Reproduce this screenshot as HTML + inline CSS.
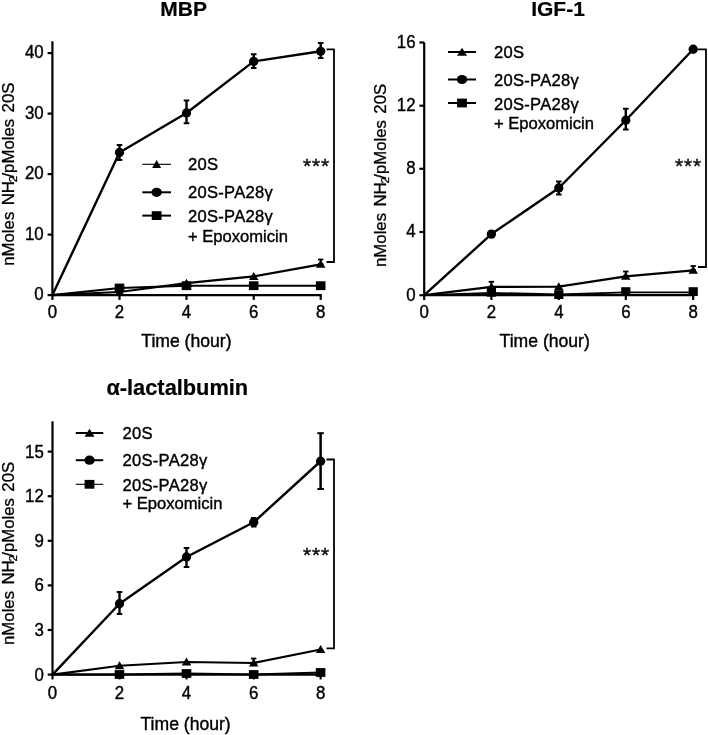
<!DOCTYPE html>
<html><head><meta charset="utf-8"><title>Figure</title>
<style>
html,body{margin:0;padding:0;background:#fff;}
svg{display:block;font-family:'Liberation Sans', Arial, sans-serif;}
</style></head><body>
<svg width="708" height="735" viewBox="0 0 708 735">
<rect width="708" height="735" fill="#fff"/>
<line x1="52.4" y1="41.3" x2="52.4" y2="296.20000000000005" stroke="#000" stroke-width="2.2" stroke-linecap="butt"/>
<line x1="51.3" y1="295.1" x2="321.8" y2="295.1" stroke="#000" stroke-width="2.2" stroke-linecap="butt"/>
<line x1="47.6" y1="53.1" x2="52.4" y2="53.1" stroke="#000" stroke-width="2.2" stroke-linecap="butt"/>
<text transform="translate(43.7,58.4) scale(0.962,1)" font-size="17.5" text-anchor="end" font-weight="normal" fill="#000" stroke="#000" stroke-width="0.4" >40</text>
<line x1="47.6" y1="113.6" x2="52.4" y2="113.6" stroke="#000" stroke-width="2.2" stroke-linecap="butt"/>
<text transform="translate(43.7,118.89999999999999) scale(0.962,1)" font-size="17.5" text-anchor="end" font-weight="normal" fill="#000" stroke="#000" stroke-width="0.4" >30</text>
<line x1="47.6" y1="174.1" x2="52.4" y2="174.1" stroke="#000" stroke-width="2.2" stroke-linecap="butt"/>
<text transform="translate(43.7,179.4) scale(0.962,1)" font-size="17.5" text-anchor="end" font-weight="normal" fill="#000" stroke="#000" stroke-width="0.4" >20</text>
<line x1="47.6" y1="234.6" x2="52.4" y2="234.6" stroke="#000" stroke-width="2.2" stroke-linecap="butt"/>
<text transform="translate(43.7,239.9) scale(0.962,1)" font-size="17.5" text-anchor="end" font-weight="normal" fill="#000" stroke="#000" stroke-width="0.4" >10</text>
<line x1="47.6" y1="295.1" x2="52.4" y2="295.1" stroke="#000" stroke-width="2.2" stroke-linecap="butt"/>
<text transform="translate(43.7,300.40000000000003) scale(0.962,1)" font-size="17.5" text-anchor="end" font-weight="normal" fill="#000" stroke="#000" stroke-width="0.4" >0</text>
<line x1="52.4" y1="295.1" x2="52.4" y2="299.90000000000003" stroke="#000" stroke-width="2.2" stroke-linecap="butt"/>
<text transform="translate(52.4,318.3) scale(0.962,1)" font-size="17.5" text-anchor="middle" font-weight="normal" fill="#000" stroke="#000" stroke-width="0.4" >0</text>
<line x1="119.5" y1="295.1" x2="119.5" y2="299.90000000000003" stroke="#000" stroke-width="2.2" stroke-linecap="butt"/>
<text transform="translate(119.5,318.3) scale(0.962,1)" font-size="17.5" text-anchor="middle" font-weight="normal" fill="#000" stroke="#000" stroke-width="0.4" >2</text>
<line x1="186.5" y1="295.1" x2="186.5" y2="299.90000000000003" stroke="#000" stroke-width="2.2" stroke-linecap="butt"/>
<text transform="translate(186.5,318.3) scale(0.962,1)" font-size="17.5" text-anchor="middle" font-weight="normal" fill="#000" stroke="#000" stroke-width="0.4" >4</text>
<line x1="253.7" y1="295.1" x2="253.7" y2="299.90000000000003" stroke="#000" stroke-width="2.2" stroke-linecap="butt"/>
<text transform="translate(253.7,318.3) scale(0.962,1)" font-size="17.5" text-anchor="middle" font-weight="normal" fill="#000" stroke="#000" stroke-width="0.4" >6</text>
<line x1="320.7" y1="295.1" x2="320.7" y2="299.90000000000003" stroke="#000" stroke-width="2.2" stroke-linecap="butt"/>
<text transform="translate(320.7,318.3) scale(0.962,1)" font-size="17.5" text-anchor="middle" font-weight="normal" fill="#000" stroke="#000" stroke-width="0.4" >8</text>
<text transform="translate(183.7,15.5) scale(1,1)" font-size="21" text-anchor="middle" font-weight="bold" fill="#000" stroke="#000" stroke-width="0.2" >MBP</text>
<text transform="translate(141.3,346.6) scale(0.962,1)" font-size="18.3" text-anchor="start" font-weight="normal" fill="#000" stroke="#000" stroke-width="0.4" >Time (hour)</text>
<text transform="translate(13.9,174.2) rotate(-90) scale(1,1)" font-size="16.8" letter-spacing="0" word-spacing="1.7" text-anchor="middle" fill="#000" stroke="#000" stroke-width="0.3">nMoles NH<tspan font-size="11.4" dy="3.4" dx="-1.1">2</tspan><tspan dy="-3.4" dx="-1.7">/pMoles 20S</tspan></text>
<polyline points="52.4,295.1 119.5,292 186.5,283.2 253.7,276.4 320.7,264.3" fill="none" stroke="#000" stroke-width="2.2" stroke-linejoin="round"/>
<polyline points="52.4,295.1 119.5,288 186.5,285.7 253.7,285.7 320.7,285.7" fill="none" stroke="#000" stroke-width="2.1" stroke-linejoin="round"/>
<polyline points="52.4,295.1 119.5,152.5 186.5,113 253.7,61.4 320.7,51.3" fill="none" stroke="#000" stroke-width="2.4" stroke-linejoin="round"/>
<line x1="119.5" y1="145" x2="119.5" y2="160" stroke="#000" stroke-width="2.4" stroke-linecap="butt"/>
<line x1="116.7" y1="145" x2="122.3" y2="145" stroke="#000" stroke-width="2.0" stroke-linecap="butt"/>
<line x1="116.7" y1="160" x2="122.3" y2="160" stroke="#000" stroke-width="2.0" stroke-linecap="butt"/>
<line x1="186.5" y1="100.5" x2="186.5" y2="123.25" stroke="#000" stroke-width="2.4" stroke-linecap="butt"/>
<line x1="183.7" y1="100.5" x2="189.3" y2="100.5" stroke="#000" stroke-width="2.0" stroke-linecap="butt"/>
<line x1="183.7" y1="123.25" x2="189.3" y2="123.25" stroke="#000" stroke-width="2.0" stroke-linecap="butt"/>
<line x1="253.7" y1="54.25" x2="253.7" y2="68" stroke="#000" stroke-width="2.4" stroke-linecap="butt"/>
<line x1="250.89999999999998" y1="54.25" x2="256.5" y2="54.25" stroke="#000" stroke-width="2.0" stroke-linecap="butt"/>
<line x1="250.89999999999998" y1="68" x2="256.5" y2="68" stroke="#000" stroke-width="2.0" stroke-linecap="butt"/>
<line x1="320.7" y1="43" x2="320.7" y2="58" stroke="#000" stroke-width="2.4" stroke-linecap="butt"/>
<line x1="317.9" y1="43" x2="323.5" y2="43" stroke="#000" stroke-width="2.0" stroke-linecap="butt"/>
<line x1="317.9" y1="58" x2="323.5" y2="58" stroke="#000" stroke-width="2.0" stroke-linecap="butt"/>
<line x1="320.7" y1="259.5" x2="320.7" y2="264" stroke="#000" stroke-width="1.8" stroke-linecap="butt"/>
<line x1="318.0" y1="259.5" x2="323.4" y2="259.5" stroke="#000" stroke-width="1.8" stroke-linecap="butt"/>
<line x1="318.0" y1="264" x2="323.4" y2="264" stroke="#000" stroke-width="1.8" stroke-linecap="butt"/>
<circle cx="119.5" cy="152.5" r="4.65" fill="#000"/>
<circle cx="186.5" cy="113" r="4.65" fill="#000"/>
<circle cx="253.7" cy="61.4" r="4.65" fill="#000"/>
<circle cx="320.7" cy="51.3" r="4.65" fill="#000"/>
<polygon points="119.5,287.5 124.25,295.5 114.75,295.5" fill="#000"/>
<polygon points="186.5,278.7 191.25,286.7 181.75,286.7" fill="#000"/>
<polygon points="253.7,271.9 258.45,279.9 248.95,279.9" fill="#000"/>
<polygon points="320.7,259.8 325.45,267.8 315.95,267.8" fill="#000"/>
<rect x="114.7" y="283.6" width="9.6" height="8.8" fill="#000"/>
<rect x="181.7" y="281.3" width="9.6" height="8.8" fill="#000"/>
<rect x="248.89999999999998" y="281.3" width="9.6" height="8.8" fill="#000"/>
<rect x="315.9" y="281.3" width="9.6" height="8.8" fill="#000"/>
<line x1="142.3" y1="164.3" x2="171" y2="164.3" stroke="#000" stroke-width="1.1" stroke-linecap="butt"/>
<line x1="142.3" y1="192.3" x2="171" y2="192.3" stroke="#000" stroke-width="2" stroke-linecap="butt"/>
<line x1="142.3" y1="215.6" x2="171" y2="215.6" stroke="#000" stroke-width="2" stroke-linecap="butt"/>
<polygon points="156.65,160.0 161.15,168.0 152.15,168.0" fill="#000"/>
<ellipse cx="156.65" cy="192.3" rx="5.2" ry="4.6" fill="#000"/>
<rect x="151.75" y="211.2" width="9.8" height="8.8" fill="#000"/>
<text transform="translate(188.0,170.1) scale(0.962,1)" font-size="17.25" text-anchor="start" font-weight="normal" fill="#000" stroke="#000" stroke-width="0.4" letter-spacing="0.27">20S</text>
<text transform="translate(188.0,197.8) scale(0.962,1)" font-size="17.25" text-anchor="start" font-weight="normal" fill="#000" stroke="#000" stroke-width="0.4" letter-spacing="0.27">20S-PA28γ</text>
<text transform="translate(188.0,221.8) scale(0.962,1)" font-size="17.25" text-anchor="start" font-weight="normal" fill="#000" stroke="#000" stroke-width="0.4" letter-spacing="0.27">20S-PA28γ</text>
<text transform="translate(188.0,242.0) scale(0.962,1)" font-size="17.25" text-anchor="start" font-weight="normal" fill="#000" stroke="#000" stroke-width="0.4" >+ Epoxomicin</text>
<polyline points="326.5,49.3 334,49.3 334,262 326.5,262" fill="none" stroke="#000" stroke-width="1.8"/>
<text x="302.9" y="172.7" font-size="20.8" letter-spacing="0.95" text-anchor="start" fill="#111" stroke="#111" stroke-width="0.45">***</text>
<line x1="424.2" y1="42.4" x2="424.2" y2="296.3" stroke="#000" stroke-width="2.2" stroke-linecap="butt"/>
<line x1="423.09999999999997" y1="295.2" x2="694.3000000000001" y2="295.2" stroke="#000" stroke-width="2.2" stroke-linecap="butt"/>
<line x1="419.4" y1="42.5" x2="424.2" y2="42.5" stroke="#000" stroke-width="2.2" stroke-linecap="butt"/>
<text transform="translate(415.5,47.8) scale(0.962,1)" font-size="17.5" text-anchor="end" font-weight="normal" fill="#000" stroke="#000" stroke-width="0.4" >16</text>
<line x1="419.4" y1="105.7" x2="424.2" y2="105.7" stroke="#000" stroke-width="2.2" stroke-linecap="butt"/>
<text transform="translate(415.5,111.0) scale(0.962,1)" font-size="17.5" text-anchor="end" font-weight="normal" fill="#000" stroke="#000" stroke-width="0.4" >12</text>
<line x1="419.4" y1="168.8" x2="424.2" y2="168.8" stroke="#000" stroke-width="2.2" stroke-linecap="butt"/>
<text transform="translate(415.5,174.10000000000002) scale(0.962,1)" font-size="17.5" text-anchor="end" font-weight="normal" fill="#000" stroke="#000" stroke-width="0.4" >8</text>
<line x1="419.4" y1="232.0" x2="424.2" y2="232.0" stroke="#000" stroke-width="2.2" stroke-linecap="butt"/>
<text transform="translate(415.5,237.3) scale(0.962,1)" font-size="17.5" text-anchor="end" font-weight="normal" fill="#000" stroke="#000" stroke-width="0.4" >4</text>
<line x1="419.4" y1="295.2" x2="424.2" y2="295.2" stroke="#000" stroke-width="2.2" stroke-linecap="butt"/>
<text transform="translate(415.5,300.5) scale(0.962,1)" font-size="17.5" text-anchor="end" font-weight="normal" fill="#000" stroke="#000" stroke-width="0.4" >0</text>
<line x1="424.2" y1="295.2" x2="424.2" y2="300.0" stroke="#000" stroke-width="2.2" stroke-linecap="butt"/>
<text transform="translate(424.2,318.3) scale(0.962,1)" font-size="17.5" text-anchor="middle" font-weight="normal" fill="#000" stroke="#000" stroke-width="0.4" >0</text>
<line x1="491.4" y1="295.2" x2="491.4" y2="300.0" stroke="#000" stroke-width="2.2" stroke-linecap="butt"/>
<text transform="translate(491.4,318.3) scale(0.962,1)" font-size="17.5" text-anchor="middle" font-weight="normal" fill="#000" stroke="#000" stroke-width="0.4" >2</text>
<line x1="558.8" y1="295.2" x2="558.8" y2="300.0" stroke="#000" stroke-width="2.2" stroke-linecap="butt"/>
<text transform="translate(558.8,318.3) scale(0.962,1)" font-size="17.5" text-anchor="middle" font-weight="normal" fill="#000" stroke="#000" stroke-width="0.4" >4</text>
<line x1="625.8" y1="295.2" x2="625.8" y2="300.0" stroke="#000" stroke-width="2.2" stroke-linecap="butt"/>
<text transform="translate(625.8,318.3) scale(0.962,1)" font-size="17.5" text-anchor="middle" font-weight="normal" fill="#000" stroke="#000" stroke-width="0.4" >6</text>
<line x1="693.2" y1="295.2" x2="693.2" y2="300.0" stroke="#000" stroke-width="2.2" stroke-linecap="butt"/>
<text transform="translate(693.2,318.3) scale(0.962,1)" font-size="17.5" text-anchor="middle" font-weight="normal" fill="#000" stroke="#000" stroke-width="0.4" >8</text>
<text transform="translate(558,15.5) scale(1,1)" font-size="21" text-anchor="middle" font-weight="bold" fill="#000" stroke="#000" stroke-width="0.2" >IGF-1</text>
<text transform="translate(499.6,346.6) scale(0.962,1)" font-size="18.3" text-anchor="start" font-weight="normal" fill="#000" stroke="#000" stroke-width="0.4" >Time (hour)</text>
<text transform="translate(386.0,175.4) rotate(-90) scale(1,1)" font-size="16.8" letter-spacing="0" word-spacing="1.7" text-anchor="middle" fill="#000" stroke="#000" stroke-width="0.3">nMoles NH<tspan font-size="11.4" dy="3.4" dx="-1.1">2</tspan><tspan dy="-3.4" dx="-1.7">/pMoles 20S</tspan></text>
<polyline points="424.2,295.2 491.4,286.9 558.8,286.7 625.8,276.3 693.2,270.3" fill="none" stroke="#000" stroke-width="2.2" stroke-linejoin="round"/>
<polyline points="424.2,295.2 491.4,292.8 558.8,294.4 625.8,292.3 693.2,292.3" fill="none" stroke="#000" stroke-width="1.7" stroke-linejoin="round"/>
<polyline points="424.2,295.2 491.4,234.1 558.8,188 625.8,120.25 693.2,49.25" fill="none" stroke="#000" stroke-width="2.4" stroke-linejoin="round"/>
<line x1="558.8" y1="181.5" x2="558.8" y2="194.5" stroke="#000" stroke-width="2.4" stroke-linecap="butt"/>
<line x1="556.0" y1="181.5" x2="561.5999999999999" y2="181.5" stroke="#000" stroke-width="2.0" stroke-linecap="butt"/>
<line x1="556.0" y1="194.5" x2="561.5999999999999" y2="194.5" stroke="#000" stroke-width="2.0" stroke-linecap="butt"/>
<line x1="625.8" y1="108.75" x2="625.8" y2="129.5" stroke="#000" stroke-width="2.4" stroke-linecap="butt"/>
<line x1="623.0" y1="108.75" x2="628.5999999999999" y2="108.75" stroke="#000" stroke-width="2.0" stroke-linecap="butt"/>
<line x1="623.0" y1="129.5" x2="628.5999999999999" y2="129.5" stroke="#000" stroke-width="2.0" stroke-linecap="butt"/>
<line x1="491.4" y1="281.8" x2="491.4" y2="292" stroke="#000" stroke-width="1.9" stroke-linecap="butt"/>
<line x1="488.7" y1="281.8" x2="494.09999999999997" y2="281.8" stroke="#000" stroke-width="1.9" stroke-linecap="butt"/>
<line x1="488.7" y1="292" x2="494.09999999999997" y2="292" stroke="#000" stroke-width="1.9" stroke-linecap="butt"/>
<line x1="625.8" y1="271.5" x2="625.8" y2="276" stroke="#000" stroke-width="1.8" stroke-linecap="butt"/>
<line x1="623.0999999999999" y1="271.5" x2="628.5" y2="271.5" stroke="#000" stroke-width="1.8" stroke-linecap="butt"/>
<line x1="623.0999999999999" y1="276" x2="628.5" y2="276" stroke="#000" stroke-width="1.8" stroke-linecap="butt"/>
<line x1="693.2" y1="266" x2="693.2" y2="270" stroke="#000" stroke-width="1.8" stroke-linecap="butt"/>
<line x1="690.5" y1="266" x2="695.9000000000001" y2="266" stroke="#000" stroke-width="1.8" stroke-linecap="butt"/>
<line x1="690.5" y1="270" x2="695.9000000000001" y2="270" stroke="#000" stroke-width="1.8" stroke-linecap="butt"/>
<circle cx="491.4" cy="234.1" r="4.65" fill="#000"/>
<circle cx="558.8" cy="188" r="4.65" fill="#000"/>
<circle cx="625.8" cy="120.25" r="4.65" fill="#000"/>
<circle cx="693.2" cy="49.25" r="4.65" fill="#000"/>
<polygon points="491.4,282.4 496.15,290.4 486.65,290.4" fill="#000"/>
<polygon points="558.8,282.2 563.55,290.2 554.05,290.2" fill="#000"/>
<polygon points="625.8,271.8 630.55,279.8 621.05,279.8" fill="#000"/>
<polygon points="693.2,265.8 697.95,273.8 688.45,273.8" fill="#000"/>
<rect x="486.79999999999995" y="287.90000000000003" width="9.2" height="8.8" fill="#000"/>
<rect x="554.1999999999999" y="290.20000000000005" width="9.2" height="8.8" fill="#000"/>
<rect x="621.1999999999999" y="287.20000000000005" width="9.2" height="8.8" fill="#000"/>
<rect x="688.6" y="287.20000000000005" width="9.2" height="8.8" fill="#000"/>
<line x1="448" y1="52" x2="476" y2="52" stroke="#000" stroke-width="2" stroke-linecap="butt"/>
<line x1="448" y1="79.5" x2="476" y2="79.5" stroke="#000" stroke-width="2" stroke-linecap="butt"/>
<line x1="448" y1="103" x2="476" y2="103" stroke="#000" stroke-width="2" stroke-linecap="butt"/>
<polygon points="462.0,47.7 467.0,55.7 457.0,55.7" fill="#000"/>
<ellipse cx="462.0" cy="79.5" rx="5.2" ry="4.6" fill="#000"/>
<rect x="457.1" y="98.6" width="9.8" height="8.8" fill="#000"/>
<text transform="translate(494,58) scale(0.962,1)" font-size="17.25" text-anchor="start" font-weight="normal" fill="#000" stroke="#000" stroke-width="0.4" letter-spacing="0.27">20S</text>
<text transform="translate(494,85.5) scale(0.962,1)" font-size="17.25" text-anchor="start" font-weight="normal" fill="#000" stroke="#000" stroke-width="0.4" letter-spacing="0.27">20S-PA28γ</text>
<text transform="translate(494,109.5) scale(0.962,1)" font-size="17.25" text-anchor="start" font-weight="normal" fill="#000" stroke="#000" stroke-width="0.4" letter-spacing="0.27">20S-PA28γ</text>
<text transform="translate(494,129.4) scale(0.962,1)" font-size="17.25" text-anchor="start" font-weight="normal" fill="#000" stroke="#000" stroke-width="0.4" >+ Epoxomicin</text>
<polyline points="698,49.3 706.0,49.3 706.0,267 698,267" fill="none" stroke="#000" stroke-width="1.8"/>
<text x="674.9" y="172.7" font-size="20.8" letter-spacing="0.95" text-anchor="start" fill="#111" stroke="#111" stroke-width="0.45">***</text>
<line x1="52.5" y1="421.3" x2="52.5" y2="675.7" stroke="#000" stroke-width="2.2" stroke-linecap="butt"/>
<line x1="51.4" y1="674.6" x2="321.70000000000005" y2="674.6" stroke="#000" stroke-width="2.2" stroke-linecap="butt"/>
<line x1="47.7" y1="451.6" x2="52.5" y2="451.6" stroke="#000" stroke-width="2.2" stroke-linecap="butt"/>
<text transform="translate(43.8,458.4) scale(0.962,1)" font-size="17.5" text-anchor="end" font-weight="normal" fill="#000" stroke="#000" stroke-width="0.4" >15</text>
<line x1="47.7" y1="496.2" x2="52.5" y2="496.2" stroke="#000" stroke-width="2.2" stroke-linecap="butt"/>
<text transform="translate(43.8,502.09999999999997) scale(0.962,1)" font-size="17.5" text-anchor="end" font-weight="normal" fill="#000" stroke="#000" stroke-width="0.4" >12</text>
<line x1="47.7" y1="540.8" x2="52.5" y2="540.8" stroke="#000" stroke-width="2.2" stroke-linecap="butt"/>
<text transform="translate(43.8,546.6999999999999) scale(0.962,1)" font-size="17.5" text-anchor="end" font-weight="normal" fill="#000" stroke="#000" stroke-width="0.4" >9</text>
<line x1="47.7" y1="585.4" x2="52.5" y2="585.4" stroke="#000" stroke-width="2.2" stroke-linecap="butt"/>
<text transform="translate(43.8,591.3) scale(0.962,1)" font-size="17.5" text-anchor="end" font-weight="normal" fill="#000" stroke="#000" stroke-width="0.4" >6</text>
<line x1="47.7" y1="630" x2="52.5" y2="630" stroke="#000" stroke-width="2.2" stroke-linecap="butt"/>
<text transform="translate(43.8,635.9) scale(0.962,1)" font-size="17.5" text-anchor="end" font-weight="normal" fill="#000" stroke="#000" stroke-width="0.4" >3</text>
<line x1="47.7" y1="674.6" x2="52.5" y2="674.6" stroke="#000" stroke-width="2.2" stroke-linecap="butt"/>
<text transform="translate(43.8,680.5) scale(0.962,1)" font-size="17.5" text-anchor="end" font-weight="normal" fill="#000" stroke="#000" stroke-width="0.4" >0</text>
<line x1="52.5" y1="674.6" x2="52.5" y2="679.4" stroke="#000" stroke-width="2.2" stroke-linecap="butt"/>
<text transform="translate(52.5,699) scale(0.962,1)" font-size="17.5" text-anchor="middle" font-weight="normal" fill="#000" stroke="#000" stroke-width="0.4" >0</text>
<line x1="119.5" y1="674.6" x2="119.5" y2="679.4" stroke="#000" stroke-width="2.2" stroke-linecap="butt"/>
<text transform="translate(119.5,699) scale(0.962,1)" font-size="17.5" text-anchor="middle" font-weight="normal" fill="#000" stroke="#000" stroke-width="0.4" >2</text>
<line x1="186.5" y1="674.6" x2="186.5" y2="679.4" stroke="#000" stroke-width="2.2" stroke-linecap="butt"/>
<text transform="translate(186.5,699) scale(0.962,1)" font-size="17.5" text-anchor="middle" font-weight="normal" fill="#000" stroke="#000" stroke-width="0.4" >4</text>
<line x1="253.7" y1="674.6" x2="253.7" y2="679.4" stroke="#000" stroke-width="2.2" stroke-linecap="butt"/>
<text transform="translate(253.7,699) scale(0.962,1)" font-size="17.5" text-anchor="middle" font-weight="normal" fill="#000" stroke="#000" stroke-width="0.4" >6</text>
<line x1="320.6" y1="674.6" x2="320.6" y2="679.4" stroke="#000" stroke-width="2.2" stroke-linecap="butt"/>
<text transform="translate(320.6,699) scale(0.962,1)" font-size="17.5" text-anchor="middle" font-weight="normal" fill="#000" stroke="#000" stroke-width="0.4" >8</text>
<text transform="translate(177.3,395) scale(1,1)" font-size="21.8" text-anchor="middle" font-weight="bold" fill="#000" stroke="#000" stroke-width="0.2" >α-lactalbumin</text>
<text transform="translate(140.5,730) scale(0.962,1)" font-size="18.3" text-anchor="start" font-weight="normal" fill="#000" stroke="#000" stroke-width="0.4" >Time (hour)</text>
<text transform="translate(13.9,553.4) rotate(-90) scale(1,1)" font-size="16.8" letter-spacing="0" word-spacing="1.7" text-anchor="middle" fill="#000" stroke="#000" stroke-width="0.3">nMoles NH<tspan font-size="11.4" dy="3.4" dx="-1.1">2</tspan><tspan dy="-3.4" dx="-1.7">/pMoles 20S</tspan></text>
<polyline points="52.5,674.6 119.5,665.75 186.5,662 253.7,663 320.6,649.5" fill="none" stroke="#000" stroke-width="2.2" stroke-linejoin="round"/>
<polyline points="52.5,674.6 119.5,674.5 186.5,673.5 253.7,674.5 320.6,672.5" fill="none" stroke="#000" stroke-width="2.0" stroke-linejoin="round"/>
<polyline points="52.5,674.6 119.5,603.75 186.5,557 253.7,522.25 320.6,461.25" fill="none" stroke="#000" stroke-width="2.4" stroke-linejoin="round"/>
<line x1="119.5" y1="592" x2="119.5" y2="614" stroke="#000" stroke-width="2.4" stroke-linecap="butt"/>
<line x1="116.7" y1="592" x2="122.3" y2="592" stroke="#000" stroke-width="2.0" stroke-linecap="butt"/>
<line x1="116.7" y1="614" x2="122.3" y2="614" stroke="#000" stroke-width="2.0" stroke-linecap="butt"/>
<line x1="186.5" y1="548" x2="186.5" y2="567" stroke="#000" stroke-width="2.4" stroke-linecap="butt"/>
<line x1="183.7" y1="548" x2="189.3" y2="548" stroke="#000" stroke-width="2.0" stroke-linecap="butt"/>
<line x1="183.7" y1="567" x2="189.3" y2="567" stroke="#000" stroke-width="2.0" stroke-linecap="butt"/>
<line x1="253.7" y1="518" x2="253.7" y2="526.5" stroke="#000" stroke-width="2.4" stroke-linecap="butt"/>
<line x1="250.89999999999998" y1="518" x2="256.5" y2="518" stroke="#000" stroke-width="2.0" stroke-linecap="butt"/>
<line x1="250.89999999999998" y1="526.5" x2="256.5" y2="526.5" stroke="#000" stroke-width="2.0" stroke-linecap="butt"/>
<line x1="320.6" y1="433.2" x2="320.6" y2="489" stroke="#000" stroke-width="2.5" stroke-linecap="butt"/>
<line x1="317.35" y1="433.2" x2="323.85" y2="433.2" stroke="#000" stroke-width="2.0" stroke-linecap="butt"/>
<line x1="317.35" y1="489" x2="323.85" y2="489" stroke="#000" stroke-width="2.0" stroke-linecap="butt"/>
<line x1="253.7" y1="658.5" x2="253.7" y2="663" stroke="#000" stroke-width="1.8" stroke-linecap="butt"/>
<line x1="251.0" y1="658.5" x2="256.4" y2="658.5" stroke="#000" stroke-width="1.8" stroke-linecap="butt"/>
<line x1="251.0" y1="663" x2="256.4" y2="663" stroke="#000" stroke-width="1.8" stroke-linecap="butt"/>
<circle cx="119.5" cy="603.75" r="4.65" fill="#000"/>
<circle cx="186.5" cy="557" r="4.65" fill="#000"/>
<circle cx="253.7" cy="522.25" r="4.65" fill="#000"/>
<circle cx="320.6" cy="461.25" r="4.65" fill="#000"/>
<polygon points="119.5,661.25 124.25,669.25 114.75,669.25" fill="#000"/>
<polygon points="186.5,657.5 191.25,665.5 181.75,665.5" fill="#000"/>
<polygon points="253.7,658.5 258.45,666.5 248.95,666.5" fill="#000"/>
<polygon points="320.6,645.0 325.35,653.0 315.85,653.0" fill="#000"/>
<rect x="114.7" y="670.1" width="9.6" height="8.8" fill="#000"/>
<rect x="181.7" y="669.1" width="9.6" height="8.8" fill="#000"/>
<rect x="248.89999999999998" y="670.1" width="9.6" height="8.8" fill="#000"/>
<rect x="315.8" y="668.1" width="9.6" height="8.8" fill="#000"/>
<line x1="75.75" y1="433" x2="103.25" y2="433" stroke="#000" stroke-width="2" stroke-linecap="butt"/>
<line x1="75.75" y1="460.2" x2="103.25" y2="460.2" stroke="#000" stroke-width="2" stroke-linecap="butt"/>
<line x1="75.75" y1="484.3" x2="103.25" y2="484.3" stroke="#000" stroke-width="1.1" stroke-linecap="butt"/>
<polygon points="89.5,428.7 94.5,436.7 84.5,436.7" fill="#000"/>
<ellipse cx="89.5" cy="460.2" rx="5.2" ry="4.6" fill="#000"/>
<rect x="84.6" y="479.90000000000003" width="9.8" height="8.8" fill="#000"/>
<text transform="translate(122.5,438.9) scale(0.962,1)" font-size="17.25" text-anchor="start" font-weight="normal" fill="#000" stroke="#000" stroke-width="0.4" letter-spacing="0.27">20S</text>
<text transform="translate(122.5,466.2) scale(0.962,1)" font-size="17.25" text-anchor="start" font-weight="normal" fill="#000" stroke="#000" stroke-width="0.4" letter-spacing="0.27">20S-PA28γ</text>
<text transform="translate(122.5,490.8) scale(0.962,1)" font-size="17.25" text-anchor="start" font-weight="normal" fill="#000" stroke="#000" stroke-width="0.4" letter-spacing="0.27">20S-PA28γ</text>
<text transform="translate(122.5,509.0) scale(0.962,1)" font-size="17.25" text-anchor="start" font-weight="normal" fill="#000" stroke="#000" stroke-width="0.4" >+ Epoxomicin</text>
<polyline points="326.5,459.5 334,459.5 334,648.3 326.5,648.3" fill="none" stroke="#000" stroke-width="1.8"/>
<text x="302.9" y="562.1" font-size="20.8" letter-spacing="0.95" text-anchor="start" fill="#111" stroke="#111" stroke-width="0.45">***</text>
</svg>
</body></html>
